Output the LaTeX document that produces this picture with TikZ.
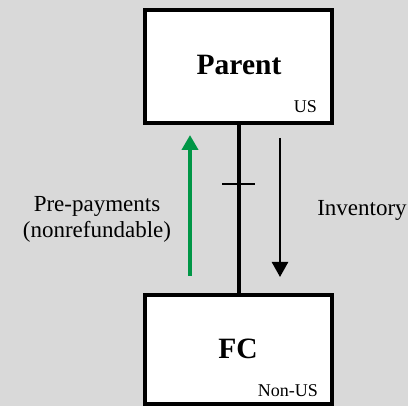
\documentclass[tikz,border=0pt]{standalone}
\usepackage{fontspec}
\setmainfont{Liberation Serif}
\usetikzlibrary{arrows.meta}
\definecolor{bg}{HTML}{D9D9D9}
\definecolor{grn}{RGB}{0,150,70}
\tikzset{
  entity/.style={draw=black, line width=4pt, fill=white},
  lbl/.style={inner sep=0pt, font=\fontsize{23}{26}\selectfont, align=center},
  flow/.style={-{Triangle[length=15pt,width=16pt]}},
}
\begin{document}
\begin{tikzpicture}[x=1pt,y=-1pt]
\fill[bg] (0,0) rectangle (408,406);
\useasboundingbox (0,0) rectangle (408,406);
\begin{scope}
\clip (0,0) rectangle (408,406);
\draw[entity] (145,10) rectangle (332,123);
\draw[entity] (145,295) rectangle (332,404);
\end{scope}
\coordinate (pb) at (239,123);
\coordinate (fct) at (239,295);
\draw[line width=4pt] (pb) -- (fct);
\coordinate (t1) at (222,184);
\coordinate (t2) at (255,184);
\draw[line width=2pt] (t1) -- (t2);
\node[inner sep=0pt, font=\fontsize{29.5}{32}\bfseries\selectfont] (parent) at (239,65) {Parent};
\node[inner sep=0pt, font=\fontsize{18}{20}\selectfont, anchor=base east] (us) at (317,113) {US};
\node[inner sep=0pt, font=\fontsize{29.5}{32}\bfseries\selectfont] (fc) at (238,349) {FC};
\node[inner sep=0pt, font=\fontsize{18}{20}\selectfont, anchor=base east] (nonus) at (318,397) {Non-US};
\coordinate (g1) at (190,276);
\coordinate (g2) at (190,135);
\draw[flow, grn, line width=4pt] (g1) -- (g2);
\coordinate (b1) at (280,138);
\coordinate (b2) at (280,277);
\draw[flow, line width=2.5pt] (b1) -- (b2);
\node[lbl] (pre) at (97,219) {Pre-payments\\(nonrefundable)};
\node[lbl] (inv) at (362,210) {Inventory};
\end{tikzpicture}
\end{document}
